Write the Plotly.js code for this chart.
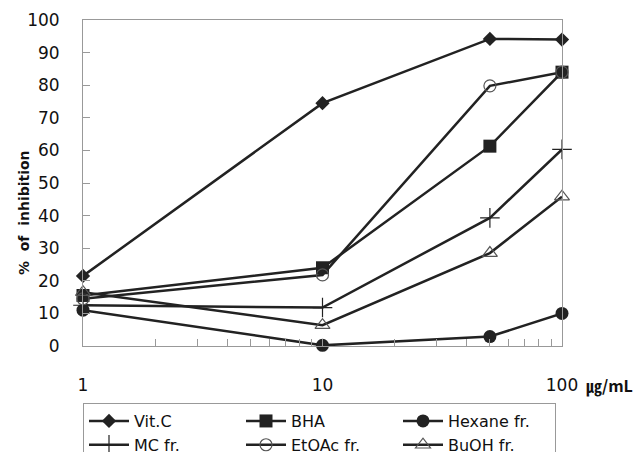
<!DOCTYPE html>
<html>
<head>
<meta charset="utf-8">
<script src="https://cdn.plot.ly/plotly-3.0.1.min.js"></script>
<style>html,body{margin:0;padding:0;background:#fff;}#chart{width:639px;height:452px;}</style>
</head>
<body>
<div id="chart"></div>
<script>
const concentrations = [1, 10, 50, 100];
const vitC = [21.5, 74.5, 94.2, 94.0];
const bha = [15.5, 24.0, 61.3, 84.0];
const hexane = [11.0, 0.2, 2.9, 10.0];
const mc = [12.5, 11.8, 39.3, 60.3];
const etoac = [14.5, 21.8, 79.8, 84.0];
const buoh = [16.5, 6.4, 28.5, 45.8];
const seriesNames = ['Vit.C', 'BHA', 'Hexane fr.', 'MC fr.', 'EtOAc fr.', 'BuOH fr.'];
const xTickVals = [1,2,3,4,5,6,7,8,9,10,20,30,40,50,60,70,80,90,100];
const xTickText = ['1','','','','','','','','','10','','','','','','','','','100'];
const yTickVals = [0,10,20,30,40,50,60,70,80,90,100];

const lineColor = '#222222';
const markerStyles = [
  {symbol:'diamond', size:11, color:lineColor},
  {symbol:'square', size:13, color:lineColor},
  {symbol:'circle', size:13, color:lineColor},
  {symbol:'cross-thin-open', size:14, color:lineColor, line:{color:'#444', width:1.2}},
  {symbol:'circle-open', size:12, color:'#555', line:{color:'#555', width:1.2}},
  {symbol:'triangle-up-open', size:13, color:'#555', line:{color:'#555', width:1.2}}
];
const allSeries = [vitC, bha, hexane, mc, etoac, buoh];
const traces = allSeries.map((ys, i) => ({
  type:'scatter', mode:'lines+markers', x:concentrations, y:ys, name:seriesNames[i],
  line:{color:lineColor, width:2.5}, marker:markerStyles[i], cliponaxis:false
}));

const font = 'DejaVu Sans, Noto Sans, sans-serif';
const layout = {
  width:639, height:452,
  margin:{l:83, r:77, t:20, b:106, autoexpand:false},
  paper_bgcolor:'#fff', plot_bgcolor:'#fff',
  showlegend:true,
  font:{family:font, size:16, color:'#111'},
  xaxis:{
    type:'log', range:[0,2], tickvals:xTickVals, ticktext:xTickText,
    ticks:'inside', ticklen:7, tickcolor:'#999', showgrid:false, zeroline:false,
    showline:true, linecolor:'#999', linewidth:1, mirror:true,
    ticklabelstandoff:24, tickfont:{size:17, family:font}
  },
  yaxis:{
    range:[0,100], tickvals:yTickVals, ticks:'inside', ticklen:7, tickcolor:'#999',
    showgrid:false, zeroline:false, showline:true, linecolor:'#999', linewidth:1, mirror:true,
    ticklabelstandoff:19, tickfont:{size:17, family:font}
  },
  legend:{
    orientation:'h', x:0, xanchor:'left', y:-0.175, yanchor:'top',
    entrywidth:102, entrywidthmode:'pixels', traceorder:'normal',
    bordercolor:'#999', borderwidth:1, bgcolor:'#fff',
    font:{size:16, family:font}, itemwidth:40
  },
  annotations:[{
    xref:'paper', yref:'paper', x:1.045, y:-0.12, xanchor:'left', yanchor:'middle',
    text:'<b>㎍/mL</b>', showarrow:false,
    font:{size:16, family:'Noto Sans CJK KR, DejaVu Sans, sans-serif', color:'#111'}
  },{
    xref:'paper', yref:'paper', x:-0.123, y:0.408, xanchor:'center', yanchor:'middle',
    textangle:-90, text:'<b>%  of  inhibition</b>', showarrow:false,
    font:{size:14, family:font, color:'#111'}
  }]
};
Plotly.newPlot('chart', traces, layout, {displayModeBar:false, staticPlot:true});
</script>
</body>
</html>
